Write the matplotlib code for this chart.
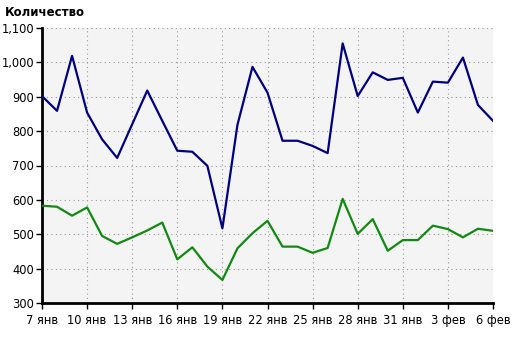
import matplotlib
matplotlib.use("Agg")
import matplotlib.pyplot as plt
from matplotlib.ticker import FuncFormatter, MultipleLocator

days = list(range(31))
blue_values = [902, 859, 1019, 854, 776, 722, 820, 918, 830, 743, 740, 699, 517,
               818, 987, 912, 772, 772, 757, 736, 1055, 902, 971, 949, 955, 854,
               944, 941, 1014, 876, 830]
green_values = [583, 580, 554, 578, 495, 472, 491, 511, 534, 427, 462, 406, 367,
                459, 503, 539, 464, 464, 446, 460, 603, 501, 544, 452, 483, 483,
                525, 515, 491, 516, 510]
tick_positions = list(range(0, 31, 3))
tick_labels = ["7 янв", "10 янв", "13 янв", "16 янв", "19 янв", "22 янв",
               "25 янв", "28 янв", "31 янв", "3 фев", "6 фев"]
title = "Количество"

plt.rcParams['font.family'] = ['DejaVu Sans']
fig = plt.figure(figsize=(5.16, 3.37), dpi=100)
ax = fig.add_axes([42/516, 34/337, (493-42)/516, (303-28)/337])
ax.set_facecolor('#f4f4f4')

ax.plot(days, blue_values, color='#000080', lw=1.6, zorder=3)
ax.plot(days, green_values, color='#108a10', lw=1.6, zorder=3)

ax.set_xlim(0, 30)
ax.set_ylim(300, 1100)
ax.set_xticks(tick_positions)
ax.set_xticklabels(tick_labels)
ax.yaxis.set_major_locator(MultipleLocator(100))
ax.yaxis.set_major_formatter(FuncFormatter(lambda v, p: f"{int(v):,}"))

ax.grid(True, color='#999999', linestyle=(0, (1, 3)), lw=0.8)
for s in ['top', 'right']:
    ax.spines[s].set_visible(False)
ax.spines['left'].set_linewidth(2)
ax.spines['bottom'].set_linewidth(2)
ax.tick_params(axis='x', labelsize=8.3, length=4, width=1, color='black', pad=4)
ax.tick_params(axis='y', labelsize=8.3, length=4, width=1, color='black', pad=1.5)

fig.text(5/516, 1 - 12/337, title, fontsize=8.5, fontweight='bold', va='center', ha='left')

fig.savefig('out.png', dpi=100)
